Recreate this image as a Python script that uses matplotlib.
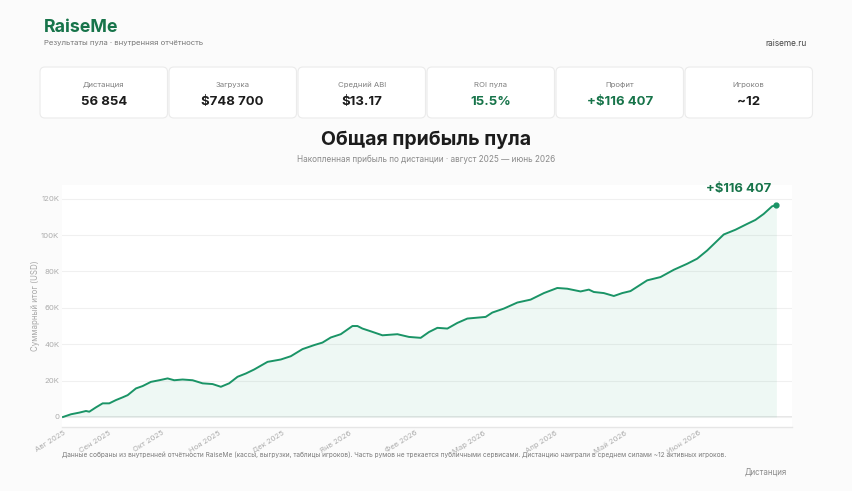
import matplotlib.pyplot as plt
from matplotlib.patches import FancyBboxPatch
from matplotlib.ticker import FuncFormatter

plt.rcParams['font.family'] = ['Inter', 'DejaVu Sans']

# накопленная прибыль пула по дистанции (руки -> USD)
distance = [0, 637, 1298, 1831, 2094, 2628, 3161, 3687, 4220, 4754, 5152, 5813,
            6347, 7007, 7668, 8337, 8863, 9531, 10327, 11124, 11920, 12581, 13242,
            13911, 14572, 15233, 16300, 17359, 18155, 19087, 20011, 20680, 21341,
            22137, 23069, 23467, 23865, 24526, 25458, 26652, 27576, 28508, 29169,
            29838, 30634, 31430, 32227, 33684, 34218, 35141, 36208, 37267, 38326,
            39393, 40189, 41248, 41909, 42307, 43103, 43900, 44569, 45230, 46559,
            47618, 48677, 49744, 50541, 51337, 52659, 53590, 54522, 55183, 55844,
            56513, 56854]
profit = [0, 1500, 2400, 3300, 2900, 5300, 7500, 7500, 9300, 10800, 12000, 15700,
          17000, 19300, 20200, 21200, 20200, 20600, 20200, 18500, 18100, 16600, 18500,
          22100, 23900, 26100, 30300, 31600, 33400, 37300, 39500, 40900, 43700,
          45500, 50000, 50000, 48600, 47100, 44900, 45500, 44000, 43500, 46700,
          49000, 48600, 51700, 54100, 55000, 57400, 59600, 62900, 64500, 68100,
          70900, 70500, 69000, 70000, 68700, 68100, 66500, 68100, 69200, 75100,
          76900, 80900, 84200, 87000, 91500, 100300, 102900, 106100, 108300, 111600,
          115800, 116407]

# дистанция, на которой начинался каждый месяц
month_starts = [0, 3666, 7890, 12433, 17454, 22794, 28054, 33474, 39212, 44791, 50689]
month_labels = ['Авг 2025', 'Сен 2025', 'Окт 2025', 'Ноя 2025', 'Дек 2025', 'Янв 2026',
                'Фев 2026', 'Мар 2026', 'Апр 2026', 'Май 2026', 'Июн 2026']

kpi_labels = ['Дистанция', 'Загрузка', 'Средний ABI', 'ROI пула', 'Профит', 'Игроков']
kpi_values = ['56 854', '$748 700', '$13.17', '15.5%', '+$116 407', '~12']
kpi_green = [False, False, False, True, True, False]

GREEN = '#1a9466'
DARK_GREEN = '#17744a'
W, H = 853, 491

fig = plt.figure(figsize=(W / 100, H / 100), dpi=100, facecolor='#fbfbfb')

# фоновый слой в пикселях для шапки и карточек
bg = fig.add_axes([0, 0, 1, 1], zorder=0)
bg.set_xlim(0, W)
bg.set_ylim(H, 0)
bg.axis('off')

bg.text(44, 27, 'RaiseMe', fontsize=12.8, fontweight='bold', color=DARK_GREEN,
        va='center', ha='left')
bg.text(44, 43, 'Результаты пула · внутренняя отчётность', fontsize=5.6,
        color='#777777', va='center', ha='left')
bg.text(807, 43, 'raiseme.ru', fontsize=6.0, color='#444444', va='center', ha='right')

card_x0, card_w, card_gap = 40, 127.5, 1.5
for i, (lab, val) in enumerate(zip(kpi_labels, kpi_values)):
    x = card_x0 + i * (card_w + card_gap)
    box = FancyBboxPatch((x, 67), card_w, 51, boxstyle='round,pad=0,rounding_size=5',
                         facecolor='white', edgecolor='#ebebeb', linewidth=0.8)
    bg.add_patch(box)
    cx = x + card_w / 2
    bg.text(cx, 85, lab, fontsize=5.6, color='#808080', ha='center', va='center')
    bg.text(cx, 102, val, fontsize=9.5, fontweight='bold',
            color=DARK_GREEN if kpi_green[i] else '#1c1c1c', ha='center', va='center')

bg.text(426, 140, 'Общая прибыль пула', fontsize=14, fontweight='bold',
        color='#1c1c1c', ha='center', va='center')
bg.text(426, 159, 'Накопленная прибыль по дистанции · август 2025 — июнь 2026',
        fontsize=5.9, color='#8a8a8a', ha='center', va='center')

bg.text(62, 455, 'Данные собраны из внутренней отчётности RaiseMe (кассы, выгрузки, таблицы '
        'игроков). Часть румов не трекается публичными сервисами. Дистанцию наиграли в '
        'среднем силами ~12 активных игроков.', fontsize=4.7, color='#7a7a7a',
        ha='left', va='center')
bg.text(787, 472, 'Дистанция', fontsize=5.7, color='#8a8a8a', ha='right', va='center')

# график
ax = fig.add_axes([62 / W, 1 - 427 / H, (792 - 62) / W, (427 - 185) / H], zorder=1)
ax.set_facecolor('white')
ax.fill_between(distance, profit, 0, color='#16a06a', alpha=0.07, linewidth=0)
ax.plot(distance, profit, color=GREEN, linewidth=1.4, solid_joinstyle='round')
ax.scatter([distance[-1]], [profit[-1]], s=12, color=GREEN, zorder=3)
ax.annotate('+$116 407', (distance[-1], profit[-1]), xytext=(-4, 12),
            textcoords='offset points', ha='right', va='center', fontsize=9.4,
            fontweight='bold', color=DARK_GREEN)

ax.set_xlim(-80, 58100)
ax.set_ylim(-5500, 127500)
ax.set_yticks(range(0, 120001, 20000))
ax.yaxis.set_major_formatter(FuncFormatter(lambda v, p: '0' if v == 0 else f'{int(v / 1000)}K'))
ax.set_xticks(month_starts)
ax.set_xticklabels(month_labels, rotation=32, ha='right', va='top', rotation_mode='anchor')
ax.tick_params(axis='both', length=0, labelcolor='#adadad')
ax.tick_params(axis='x', pad=2, labelsize=5.5)
ax.tick_params(axis='y', pad=2, labelsize=5.6)
ax.grid(axis='y', color='#f0f0f0', linewidth=0.8)
ax.axhline(0, color='#e3e3e3', linewidth=1.2, zorder=0.5)
for s in ['top', 'right', 'left']:
    ax.spines[s].set_visible(False)
ax.spines['bottom'].set_color('#e6e6e6')
ax.spines['bottom'].set_linewidth(1.0)
ax.set_ylabel('Суммарный итог (USD)', fontsize=5.7, color='#a8a8a8', labelpad=1)
ax.set_axisbelow(True)

fig.savefig('out.png', dpi=100, facecolor=fig.get_facecolor())
